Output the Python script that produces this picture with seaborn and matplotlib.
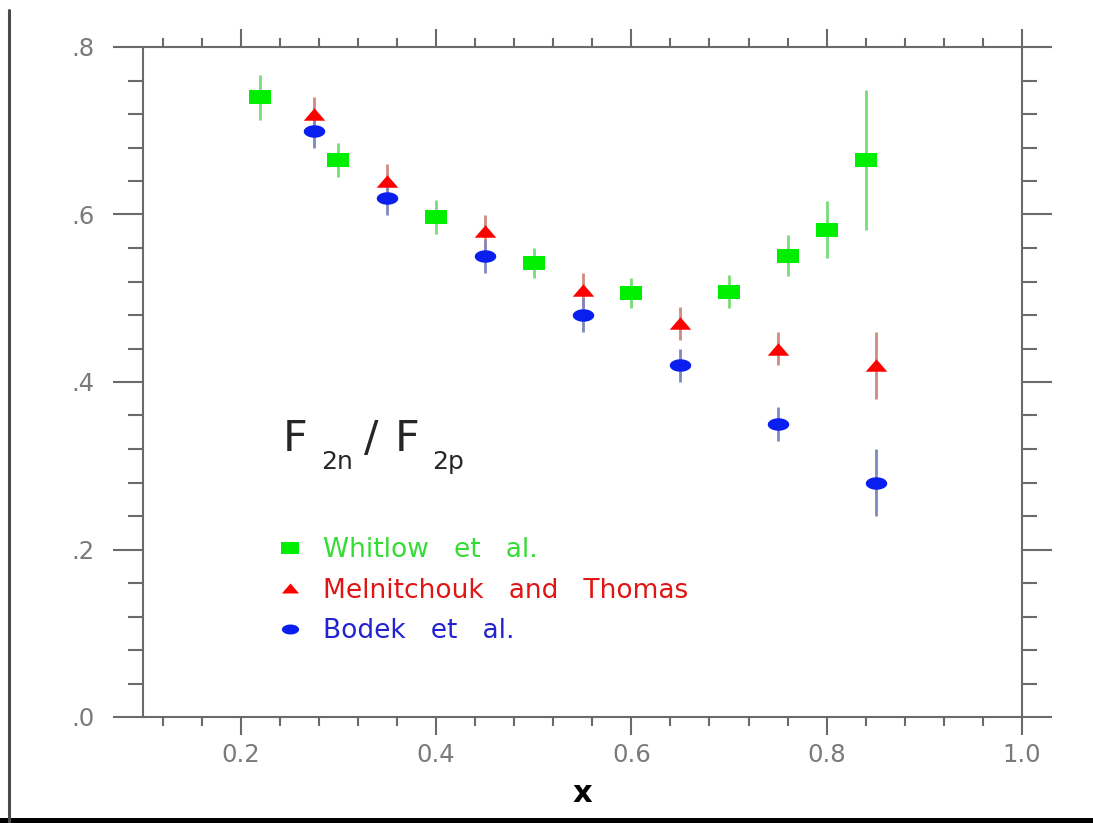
import numpy as np
import pandas as pd
import matplotlib
matplotlib.use('Agg')
import matplotlib.pyplot as plt
from matplotlib.ticker import MultipleLocator, FuncFormatter
from matplotlib.lines import Line2D
from matplotlib.patches import Rectangle
import seaborn as sns

# Données
whitlow_x = [0.22, 0.30, 0.40, 0.50, 0.60, 0.70, 0.76, 0.80, 0.84]
whitlow_y = [0.740, 0.665, 0.597, 0.542, 0.506, 0.508, 0.551, 0.582, 0.665]
whitlow_err = [0.027, 0.020, 0.020, 0.018, 0.018, 0.020, 0.025, 0.034, 0.084]

mt_x = [0.275, 0.35, 0.45, 0.55, 0.65, 0.75, 0.85]
mt_y = [0.72, 0.64, 0.58, 0.51, 0.47, 0.44, 0.42]
mt_err = [0.02, 0.02, 0.02, 0.02, 0.02, 0.02, 0.04]

bodek_x = [0.275, 0.35, 0.45, 0.55, 0.65, 0.75, 0.85]
bodek_y = [0.70, 0.62, 0.55, 0.48, 0.42, 0.35, 0.28]
bodek_err = [0.02, 0.02, 0.02, 0.02, 0.02, 0.02, 0.04]

labels = ['Whitlow   et   al.', 'Melnitchouk   and   Thomas', 'Bodek   et   al.']
marker_colors = ['#00ee00', '#ff0000', '#0a1ef0']
err_colors = ['#78dc78', '#d08a80', '#8088c0']
text_colors = ['#33dd33', '#e01515', '#2222d0']

# Marqueurs aplatis (plus larges que hauts)
t = np.linspace(0, 2 * np.pi, 40)
ellipse = list(zip(np.cos(t), 0.58 * np.sin(t)))
rect = [(-1, -0.64), (1, -0.64), (1, 0.64), (-1, 0.64)]
tri = [(-1, -0.58), (1, -0.58), (0, 0.58)]
markers = [rect, tri, ellipse]

W, H = 1093, 823
sns.set_theme(style='ticks')
plt.rcParams['font.family'] = ['DejaVu Sans']

fig = plt.figure(figsize=(W / 100, H / 100), dpi=100)
ax = fig.add_axes([143 / W, 1 - 717 / H, 879 / W, 670 / H])

series = [(whitlow_x, whitlow_y, whitlow_err),
          (mt_x, mt_y, mt_err),
          (bodek_x, bodek_y, bodek_err)]

for i, (xs, ys, es) in enumerate(series):
    ax.errorbar(xs, ys, yerr=es, fmt='none', ecolor=err_colors[i],
                elinewidth=2.0, capsize=0, zorder=2)
for i, (xs, ys, es) in enumerate(series):
    df = pd.DataFrame({'x': xs, 'y': ys})
    sns.scatterplot(data=df, x='x', y='y', ax=ax, color=marker_colors[i],
                    marker=markers[i], s=240, linewidth=0, label=labels[i],
                    zorder=3 + i)

ax.set_xlim(0.1, 1.0)
ax.set_ylim(0, 0.8)
ax.xaxis.set_major_locator(MultipleLocator(0.2))
ax.xaxis.set_minor_locator(MultipleLocator(0.04))
ax.yaxis.set_major_locator(MultipleLocator(0.2))
ax.yaxis.set_minor_locator(MultipleLocator(0.04))
ax.yaxis.set_major_formatter(FuncFormatter(lambda v, p: f'{v:.1f}'.lstrip('0')))
ax.xaxis.set_major_formatter(FuncFormatter(lambda v, p: f'{v:.1f}'))

spine_col = '#6a6a6a'
for s in ax.spines.values():
    s.set_visible(True)
    s.set_color(spine_col)
    s.set_linewidth(1.5)

ax.tick_params(axis='x', which='both', direction='out', top=True, bottom=True,
               color=spine_col, width=1.5, labelcolor='#7a7a7a', labelsize=17.5, pad=6)
ax.tick_params(axis='x', which='major', length=13)
ax.tick_params(axis='x', which='minor', length=6.5)
ax.tick_params(axis='y', which='both', direction='out', left=True, right=True,
               color=spine_col, width=1.5, labelcolor='#7a7a7a', labelsize=17.5, pad=13)
ax.tick_params(axis='y', which='major', length=21.6)
ax.tick_params(axis='y', which='minor', length=10.8)

ax.set_ylabel('')
ax.set_xlabel('x', fontsize=22, fontweight='bold', color='black', labelpad=8)

# Légende sans cadre, texte coloré
leg = ax.legend(loc='upper left', bbox_to_anchor=(277 / W, 1 - 537 / H),
                bbox_transform=fig.transFigure, frameon=False, fontsize=19,
                handlelength=1.0, handletextpad=0.75, labelspacing=0.55,
                borderpad=0, borderaxespad=0, markerscale=0.8,
                scatterpoints=1, scatteryoffsets=[0.5])
for txt, c in zip(leg.get_texts(), text_colors):
    txt.set_color(c)

# F2n/F2p
big, small = 31, 18
fig.text(283 / W, 1 - 451 / H, 'F', fontsize=big, va='baseline', ha='left')
fig.text(321 / W, 1 - 469 / H, '2n', fontsize=small, va='baseline', ha='left')
fig.text(364 / W, 1 - 451 / H, '/', fontsize=big, va='baseline', ha='left')
fig.text(395 / W, 1 - 451 / H, 'F', fontsize=big, va='baseline', ha='left')
fig.text(432 / W, 1 - 469 / H, '2p', fontsize=small, va='baseline', ha='left')

# Bordure de l'image
fig.add_artist(Line2D([8.5 / W, 8.5 / W], [0, 1 - 10 / H], transform=fig.transFigure,
                      color='#4a4a4a', lw=2.2))
fig.add_artist(Rectangle((0, 0), 1, 5 / H, transform=fig.transFigure,
                         color='black', lw=0))

fig.savefig('out.png', dpi=100)
